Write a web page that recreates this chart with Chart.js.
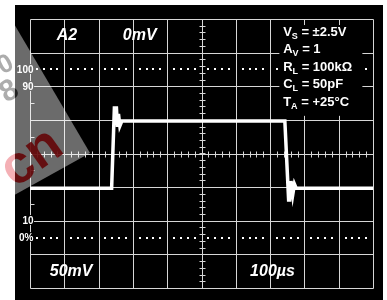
<!DOCTYPE html>
<html>
<head>
<meta charset="utf-8">
<script src="https://cdn.jsdelivr.net/npm/chart.js@4.4.1/dist/chart.umd.min.js"></script>
<style>
html, body { margin: 0; padding: 0; background: #fff; }
#scope { display: block; }
</style>
</head>
<body>
<canvas id="scope" width="387" height="300"></canvas>
<script>
// ---- datos de la pantalla (en divisiones) ----
const timeDivs = [0, 1, 2, 3, 4, 5, 6, 7, 8, 9, 10];
const voltDivs = [-4, -3, -2, -1, 0, 1, 2, 3, 4];
const traceX = [0, 2.38, 2.46, 2.52, 2.55, 2.58, 2.62, 2.68, 7.43, 7.54, 7.57, 7.61, 7.66, 7.71, 7.76, 10];
const traceY = [-1.03, -1.03, 1.35, 1.35, 0.79, 1.18, 0.82, 0.97, 0.97, -1.38, -1.38, -0.82, -1.23, -0.91, -1.03, -1.03];
const refLevels = [2.5, -2.5];            // lineas punteadas 100% / 0%
const levelLabels = ['100', '90', '10', '0%'];
const levelValues = [2.5, 2, -2, -2.5];
const cornerLabels = ['A2', '0mV', '50mV', '100\u00b5s'];
const condMain = ['V', 'A', 'R', 'C', 'T'];
const condSub = ['S', 'V', 'L', 'L', 'A'];
const condRest = [' = \u00b12.5V', ' = 1', ' = 100k\u03a9', ' = 50pF', ' = +25\u00b0C'];

const GRID = '#d6d6d6';
const SANS = '"Liberation Sans", Arial, sans-serif';

const px = (s, v) => Math.round(s.getPixelForValue(v)) + 0.5;

const scopePlugin = {
    id: 'scope',
    beforeDraw(chart) {
        const ctx = chart.ctx;
        ctx.save();
        ctx.fillStyle = '#fff';
        ctx.fillRect(0, 0, chart.width, chart.height);
        ctx.fillStyle = '#000';
        ctx.fillRect(15, 5, 368, 295);
        ctx.restore();
    },
    beforeDatasetsDraw(chart) {
        const ctx = chart.ctx, xs = chart.scales.x, ys = chart.scales.y;
        const top = px(ys, 4), bot = px(ys, -4), left = px(xs, 0), right = px(xs, 10);
        ctx.save();
        ctx.strokeStyle = GRID;
        ctx.lineWidth = 1;
        // reticula
        timeDivs.forEach(t => {
            const x = px(xs, t);
            ctx.beginPath(); ctx.moveTo(x, top); ctx.lineTo(x, bot); ctx.stroke();
        });
        voltDivs.forEach(v => {
            const y = px(ys, v);
            ctx.beginPath(); ctx.moveTo(left, y); ctx.lineTo(right, y); ctx.stroke();
        });
        // marcas del eje central
        const cx = px(xs, 5), cy = px(ys, 0);
        for (let t = 0.2; t < 10; t += 0.2) {
            const x = px(xs, t);
            ctx.beginPath(); ctx.moveTo(x, cy - 3); ctx.lineTo(x, cy + 3); ctx.stroke();
        }
        for (let v = -3.8; v < 4; v += 0.2) {
            const y = px(ys, v);
            ctx.beginPath(); ctx.moveTo(cx - 3, y); ctx.lineTo(cx + 3, y); ctx.stroke();
        }
        // medias divisiones en el borde izquierdo
        [1.5, 0.5, -0.5, -1.5].forEach(v => {
            const y = px(ys, v);
            ctx.beginPath(); ctx.moveTo(left, y); ctx.lineTo(left + 4, y); ctx.stroke();
        });
        // punteadas 100% y 0%
        ctx.fillStyle = '#fff';
        refLevels.forEach(v => {
            const y = Math.round(ys.getPixelForValue(v));
            for (let k = 0; k < 10; k++) {
                for (let j = 1; j <= 4; j++) {
                    const x = Math.round(xs.getPixelForValue(k + j * 0.2));
                    ctx.fillRect(x - 1, y - 1, 2, 2);
                }
            }
        });
        // caja de condiciones
        ctx.fillStyle = '#000';
        const bx = xs.getPixelForValue(7.27), by = ys.getPixelForValue(3.82);
        ctx.fillRect(bx, by, xs.getPixelForValue(9.69) - bx, ys.getPixelForValue(1.12) - by);

        ctx.fillStyle = '#fff';
        ctx.textBaseline = 'middle';
        const lx = xs.getPixelForValue(7.38);
        condMain.forEach((m, i) => {
            const y = ys.getPixelForValue(3.61 - i * 0.52);
            let x = lx;
            ctx.font = 'bold 13px ' + SANS;
            ctx.fillText(m, x, y);
            x += ctx.measureText(m).width;
            ctx.font = 'bold 9px ' + SANS;
            ctx.fillText(condSub[i], x, y + 4);
            x += ctx.measureText(condSub[i]).width;
            ctx.font = 'bold 13px ' + SANS;
            ctx.fillText(condRest[i], x, y);
        });

        // etiquetas de nivel
        ctx.font = 'bold 10px ' + SANS;
        ctx.textAlign = 'right';
        ctx.lineJoin = 'round';
        ctx.strokeStyle = '#000';
        ctx.lineWidth = 2;
        levelLabels.forEach((s, i) => {
            const y = ys.getPixelForValue(levelValues[i]) + 0.5;
            ctx.strokeText(s, left + 3, y);
            ctx.fillText(s, left + 3, y);
        });

        // textos de esquina
        ctx.font = 'italic bold 16px ' + SANS;
        ctx.textAlign = 'center';
        const cpos = [[1.08, 3.5], [3.2, 3.5], [1.2, -3.5], [7.07, -3.5]];
        cornerLabels.forEach((s, i) => {
            ctx.fillText(s, xs.getPixelForValue(cpos[i][0]), ys.getPixelForValue(cpos[i][1]));
        });
        ctx.restore();
    },
    afterDraw(chart) {
        // marca de agua
        const ctx = chart.ctx;
        ctx.save();
        const tri = new Path2D();
        tri.moveTo(0, 0); tri.lineTo(90, 153); tri.lineTo(0, 203); tri.closePath();
        ctx.fillStyle = 'rgba(255,255,255,0.42)';
        ctx.fill(tri);

        const drawMarks = (red, grey) => {
            ctx.save();
            ctx.translate(30, 158);
            ctx.rotate(-0.62);
            ctx.font = 'bold 54px ' + SANS;
            ctx.fillStyle = red;
            ctx.fillText('cn', -30, 16);
            ctx.restore();
            ctx.save();
            ctx.fillStyle = grey;
            ctx.font = 'bold 26px ' + SANS;
            ctx.translate(6, 64); ctx.rotate(-0.5);
            ctx.fillText('0', -8, 8);
            ctx.restore();
            ctx.save();
            ctx.fillStyle = grey;
            ctx.font = 'bold 30px ' + SANS;
            ctx.translate(9, 90); ctx.rotate(-0.5);
            ctx.fillText('8', -9, 10);
            ctx.restore();
        };
        ctx.save();
        ctx.beginPath(); ctx.rect(0, 0, 15, 300); ctx.clip();
        drawMarks('rgba(230,80,90,0.45)', 'rgba(90,90,90,0.5)');
        ctx.restore();
        ctx.save();
        ctx.clip(tri);
        ctx.beginPath(); ctx.rect(15, 0, 200, 300); ctx.clip();
        drawMarks('rgba(100,5,8,0.9)', 'rgba(20,20,20,0.85)');
        ctx.restore();
        ctx.restore();
    }
};

new Chart(document.getElementById('scope'), {
    type: 'line',
    data: {
        datasets: [{
            data: traceX.map((x, i) => ({ x: x, y: traceY[i] })),
            borderColor: '#fff',
            borderWidth: 3.5,
            pointRadius: 0,
            tension: 0,
            fill: false
        }]
    },
    options: {
        responsive: false,
        animation: false,
        layout: { padding: { left: 30, right: 14, top: 19, bottom: 12 } },
        scales: {
            x: { type: 'linear', min: 0, max: 10, display: false },
            y: { type: 'linear', min: -4, max: 4, display: false }
        },
        plugins: { legend: { display: false }, tooltip: { enabled: false } }
    },
    plugins: [scopePlugin]
});
</script>
</body>
</html>
